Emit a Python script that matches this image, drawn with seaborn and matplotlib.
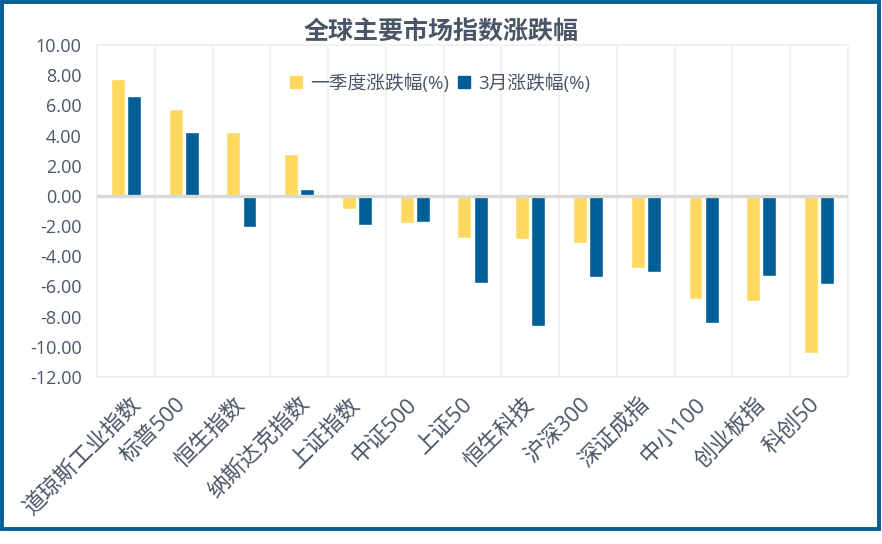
import matplotlib
matplotlib.use("Agg")
import matplotlib.pyplot as plt
import matplotlib.patches as mpatches
import matplotlib.transforms as mtransforms
import seaborn as sns
import pandas as pd

categories = ["道琼斯工业指数", "标普500", "恒生指数", "纳斯达克指数", "上证指数", "中证500",
              "上证50", "恒生科技", "沪深300", "深证成指", "中小100", "创业板指", "科创50"]
q1_change = [7.73, 5.74, 4.22, 2.76, -0.88, -1.81, -2.78, -2.85, -3.11, -4.77, -6.82, -6.95, -10.40]
mar_change = [6.60, 4.22, -2.05, 0.44, -1.92, -1.74, -5.76, -8.60, -5.36, -5.03, -8.41, -5.30, -5.83]
series_names = ["一季度涨跌幅(%)", "3月涨跌幅(%)"]
y_ticks = [10, 8, 6, 4, 2, 0, -2, -4, -6, -8, -10, -12]
title = "全球主要市场指数涨跌幅"

colors = ["#FFD95F", "#005F96"]
text_color = "#4A5666"
grid_color = "#F0F0F0"

sns.set_theme(style="white")
plt.rcParams["font.family"] = ["Open Sans", "Noto Sans CJK SC", "DejaVu Sans"]
plt.rcParams["axes.unicode_minus"] = False

df = pd.DataFrame({
    "category": categories * 2,
    "value": q1_change + mar_change,
    "series": [series_names[0]] * len(categories) + [series_names[1]] * len(categories),
})

fig = plt.figure(figsize=(8.82, 5.44), dpi=100)
ax = fig.add_axes([97 / 882, (544 - 377) / 544, (848 - 97) / 882, (377 - 45) / 544])

sns.barplot(data=df, x="category", y="value", hue="series", order=categories,
            hue_order=series_names, palette=colors, width=0.56, gap=0.14,
            saturation=1, ax=ax, zorder=2, legend=False)

ax.set_xlim(-0.5, len(categories) - 0.5)
ax.set_ylim(-12, 10)
ax.set_yticks(y_ticks)
ax.set_yticklabels([f"{t:.2f}" for t in y_ticks], fontsize=13, color=text_color)
ax.set_xlabel("")
ax.set_ylabel("")

for b in range(len(categories) + 1):
    ax.axvline(b - 0.5, color=grid_color, lw=1.3, zorder=0)
for s in ax.spines.values():
    s.set_color(grid_color)
    s.set_linewidth(1.3)
ax.axhline(0, color="#D9D9D9", lw=2.4, zorder=5)

ax.tick_params(axis="y", length=0, pad=11)
ax.tick_params(axis="x", length=0, pad=17.5)

fig.canvas.draw()
renderer = fig.canvas.get_renderer()
for lab in ax.get_xticklabels():
    tmp = fig.text(0, 0, lab.get_text(), fontsize=16)
    width_px = tmp.get_window_extent(renderer).width
    tmp.remove()
    shift_px = 0.162 * width_px - 14
    offset = mtransforms.ScaledTranslation(shift_px / 100, 0, fig.dpi_scale_trans)
    lab.set_rotation(45)
    lab.set_ha("right")
    lab.set_va("center")
    lab.set_rotation_mode("anchor")
    lab.set_fontsize(16)
    lab.set_color(text_color)
    lab.set_transform(lab.get_transform() + offset)

handles = [mpatches.Patch(color=c) for c in colors]
leg = ax.legend(handles, series_names, loc="center", bbox_to_anchor=(440 / 882, (544 - 83) / 544),
                bbox_transform=fig.transFigure, ncol=2, frameon=False, fontsize=13.5,
                handlelength=0.65, handleheight=0.65, handletextpad=0.4, columnspacing=0.5)
for t in leg.get_texts():
    t.set_color(text_color)

fig.text(441 / 882, (544 - 33) / 544, title, ha="center", va="center", fontsize=18,
         fontweight="bold", color=text_color)

border = mpatches.Rectangle((2 / 882, (544 - 529) / 544), 877 / 882, 527.5 / 544,
                            transform=fig.transFigure, fill=False, edgecolor="#005F96",
                            linewidth=2.8, zorder=10)
fig.patches.append(border)

fig.savefig("out.png", dpi=100, facecolor="white")
